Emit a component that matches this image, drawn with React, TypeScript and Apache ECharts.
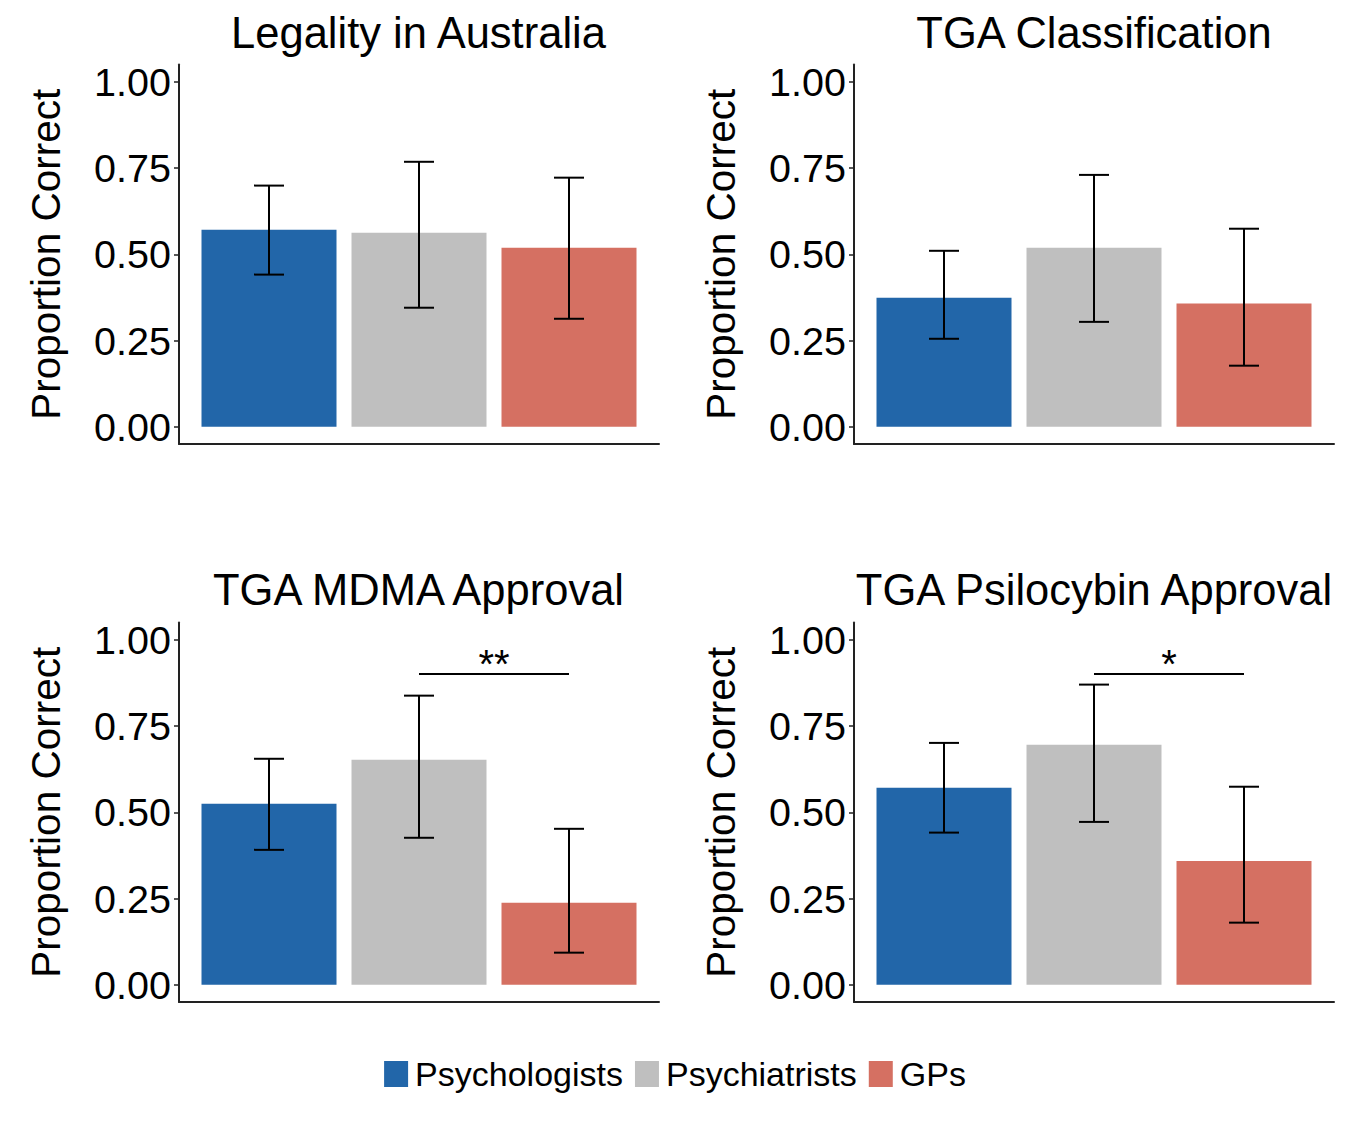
import React, { useEffect, useRef } from "react";
import * as echarts from "echarts";

const groups = ["Psychologists", "Psychiatrists", "GPs"];
const colors = ["#2266A9", "#BFBFBF", "#D57062"];
const titles = ["Legality in Australia", "TGA Classification", "TGA MDMA Approval", "TGA Psilocybin Approval"];
const yTicks = [0, 0.25, 0.5, 0.75, 1];

// per panel: values for [Psychologists, Psychiatrists, GPs]
const means = [
  [0.571, 0.562, 0.519],
  [0.374, 0.519, 0.357],
  [0.525, 0.652, 0.238],
  [0.571, 0.696, 0.359],
];
const lows = [
  [0.441, 0.345, 0.313],
  [0.255, 0.304, 0.177],
  [0.391, 0.426, 0.093],
  [0.441, 0.472, 0.18],
];
const highs = [
  [0.699, 0.768, 0.722],
  [0.51, 0.73, 0.574],
  [0.655, 0.838, 0.452],
  [0.701, 0.87, 0.574],
];
// significance: [panel, from group, to group, y, label]
const sigs: [number, number, number, number, string][] = [
  [2, 2, 3, 0.901, "**"],
  [3, 2, 3, 0.901, "*"],
];

const FONT = "Liberation Sans, Arial, Helvetica, sans-serif";

export default function App() {
  const ref = useRef<HTMLDivElement>(null);
  useEffect(() => {
    if (!ref.current) return;
    const chart = echarts.init(ref.current, undefined, { renderer: "svg" });
    const lefts = [179, 854, 179, 854];
    const tops = [64.5, 64.5, 622.5, 622.5];
    const grid = lefts.map((l, i) => ({
      left: l,
      top: tops[i],
      width: 480,
      height: 379.5,
      containLabel: false,
    }));
    const xAxis = grid.map((_, i) => ({
      type: "value",
      gridIndex: i,
      min: 0.4,
      max: 3.6,
      axisLine: { show: true, onZero: false, lineStyle: { color: "#222", width: 2 } },
      axisTick: { show: false },
      axisLabel: { show: false },
      splitLine: { show: false },
    }));
    const yAxis = grid.map((_, i) => ({
      type: "value",
      gridIndex: i,
      min: -0.05,
      max: 1.05,
      name: "Proportion Correct",
      nameLocation: "middle",
      nameGap: 113,
      nameTextStyle: { fontSize: 40.5, color: "#000", fontFamily: FONT },
      axisLine: { show: true, onZero: false, lineStyle: { color: "#222", width: 2 } },
      axisTick: { show: true, length: 5, customValues: yTicks, lineStyle: { color: "#222", width: 1.5 } },
      axisLabel: {
        show: true,
        customValues: yTicks,
        formatter: (v: number) => v.toFixed(2),
        fontSize: 39.5,
        color: "#000",
        fontFamily: FONT,
        margin: 8,
      },
      splitLine: { show: false },
    }));
    const series: any[] = [];
    for (let p = 0; p < 4; p++) {
      groups.forEach((g, k) => {
        series.push({
          type: "bar",
          name: g,
          xAxisIndex: p,
          yAxisIndex: p,
          barWidth: 135,
          barGap: "-100%",
          itemStyle: { color: colors[k] },
          data: [[k + 1, means[p][k]]],
        });
      });
      series.push({
        type: "custom",
        xAxisIndex: p,
        yAxisIndex: p,
        z: 10,
        data: groups.map((_, k) => [k + 1, lows[p][k], highs[p][k]]),
        renderItem: (params: any, api: any) => {
          const x = api.value(0);
          const lo = api.coord([x, api.value(1)]);
          const hi = api.coord([x, api.value(2)]);
          const hw = 15;
          const st = { stroke: "#000", lineWidth: 2 };
          return {
            type: "group",
            children: [
              { type: "line", shape: { x1: lo[0], y1: lo[1], x2: hi[0], y2: hi[1] }, style: st },
              { type: "line", shape: { x1: lo[0] - hw, y1: lo[1], x2: lo[0] + hw, y2: lo[1] }, style: st },
              { type: "line", shape: { x1: hi[0] - hw, y1: hi[1], x2: hi[0] + hw, y2: hi[1] }, style: st },
            ],
          };
        },
      });
    }
    sigs.forEach((s) => {
      series.push({
        type: "custom",
        xAxisIndex: s[0],
        yAxisIndex: s[0],
        z: 10,
        data: [[s[1], s[2], s[3], s[4]]],
        renderItem: (params: any, api: any) => {
          const a = api.coord([api.value(0), api.value(2)]);
          const b = api.coord([api.value(1), api.value(2)]);
          return {
            type: "group",
            children: [
              { type: "line", shape: { x1: a[0], y1: a[1], x2: b[0], y2: b[1] }, style: { stroke: "#000", lineWidth: 2 } },
              {
                type: "text",
                x: (a[0] + b[0]) / 2,
                y: a[1] + 10,
                style: {
                  text: String(api.value(3)),
                  fontSize: 40,
                  fontFamily: FONT,
                  fill: "#000",
                  align: "center",
                  verticalAlign: "bottom",
                },
              },
            ],
          };
        },
      });
    });
    const centers = [418.5, 1094, 418.5, 1094];
    const tY = [33, 33, 590, 590];
    const graphic = titles.map((t, i) => ({
      type: "text",
      x: centers[i],
      y: tY[i],
      style: {
        text: t,
        fontSize: 43.5,
        fontFamily: FONT,
        fill: "#000",
        align: "center",
        verticalAlign: "middle",
      },
    }));
    chart.setOption({
      animation: false,
      backgroundColor: "#fff",
      grid,
      xAxis,
      yAxis,
      series,
      graphic,
      legend: {
        data: groups,
        left: "center",
        top: 1052,
        icon: "rect",
        itemWidth: 24,
        itemHeight: 26,
        itemGap: 12,
        textStyle: { fontSize: 34, color: "#000", fontFamily: FONT, padding: [0, 0, 0, 2] },
        selectedMode: false,
      },
    });
    return () => chart.dispose();
  }, []);
  return (
    <div
      ref={ref}
      style={{ position: "fixed", left: 0, top: 0, width: 1350, height: 1125, background: "#fff" }}
    />
  );
}
